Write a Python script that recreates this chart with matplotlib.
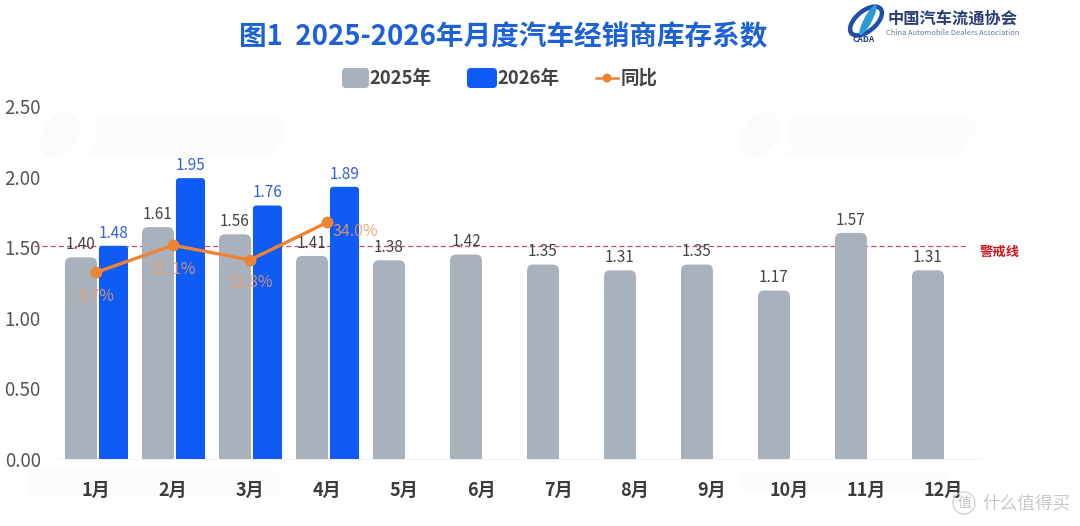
import matplotlib
matplotlib.use("Agg")
import matplotlib.pyplot as plt
from matplotlib.patches import FancyBboxPatch, Circle, Ellipse
from matplotlib.transforms import Affine2D
import numpy as np

plt.rcParams['font.family'] = ['Noto Sans CJK SC', 'DejaVu Sans']

months = ['1月', '2月', '3月', '4月', '5月', '6月', '7月', '8月', '9月', '10月', '11月', '12月']
stock_2025 = [1.40, 1.61, 1.56, 1.41, 1.38, 1.42, 1.35, 1.31, 1.35, 1.17, 1.57, 1.31]
stock_2026 = [1.48, 1.95, 1.76, 1.89]
yoy_pct = [5.7, 21.1, 12.8, 34.0]
yoy_labels = ['5.7%', '21.1%', '12.8%', '34.0%']
y_ticks = [0.0, 0.5, 1.0, 1.5, 2.0, 2.5]
warning_level = 1.51

GRAY = '#a9b1bc'
BLUE = '#0f5bf5'
ORANGE = '#ee8432'
W, H = 1080, 526

fig = plt.figure(figsize=(W / 100, H / 100), dpi=100, facecolor='white')
# figure coordinates counted in pixels from the top left
px = Affine2D().scale(1 / W, -1 / H).translate(0, 1) + fig.transFigure


def soft_box(x0, y0, x1, y1, color, r=4, zorder=3):
    box = FancyBboxPatch((x0 + r, y0 + r), x1 - x0 - 2 * r, y1 - y0 - 2 * r,
                         boxstyle=f"round,pad={r},rounding_size={r}",
                         fc=color, ec='none', transform=px, zorder=zorder)
    fig.add_artist(box)


# faint background marks behind the plot
for x0, y0, x1, y1 in [(95, 117, 285, 145), (90, 145, 275, 157), (790, 117, 975, 145),
                       (785, 145, 965, 157), (30, 470, 280, 497), (740, 472, 950, 492)]:
    soft_box(x0, y0, x1, y1, '#fcfcfc', r=6, zorder=-1)
for cx, cy in [(60, 135), (760, 135)]:
    fig.add_artist(Ellipse((cx, cy), 36, 50, angle=35, fc='#fbfbfb', ec='none', transform=px, zorder=-1))

ax = fig.add_axes([57.5 / W, 1 - 459 / H, 924 / W, 353 / H])
ax.patch.set_alpha(0)
ax.set_xlim(-0.5, 11.5)
ax.set_ylim(0, 2.5)
ax.set_yticks(y_ticks)
ax.set_yticklabels([f'{t:.2f}' for t in y_ticks], fontsize=13.5, color='#555555')
ax.set_xticks(range(len(months)))
ax.set_xticklabels(months, fontsize=13, fontweight='bold', color='#3c3c3c')
ax.tick_params(axis='both', length=0)
ax.tick_params(axis='x', pad=16)
ax.tick_params(axis='y', pad=12)
for side in ['top', 'right', 'left']:
    ax.spines[side].set_visible(False)
ax.spines['bottom'].set_color('#f2f2f2')

# the bars sit on a slightly taller scale than the printed ticks
bars_ax = ax.twinx()
bars_ax.patch.set_alpha(0)
bars_ax.set_ylim(0, 2.451)
bars_ax.axis('off')

yoy_ax = ax.twinx()
yoy_ax.patch.set_alpha(0)
yoy_ax.set_ylim(-100, 100)
yoy_ax.axis('off')

x = np.arange(len(months))
x_2026 = x[:len(stock_2026)]
gray_rects = bars_ax.bar(x - 0.195, stock_2025, width=0.415, color=GRAY)
blue_rects = bars_ax.bar(x_2026 + 0.227, stock_2026, width=0.377, color=BLUE)

# swap the plain rectangles for rounded ones, the axes clip the lower corners
aspect = 77 / 144
for rect, radius in [(r, 0.08) for r in gray_rects] + [(r, 0.04) for r in blue_rects]:
    rect.set_visible(False)
    x0, w, h = rect.get_x(), rect.get_width(), rect.get_height()
    bars_ax.add_patch(FancyBboxPatch((x0 + radius, 0), w - 2 * radius, h - radius * aspect,
                                     boxstyle=f"round,pad={radius},rounding_size={radius}",
                                     mutation_aspect=aspect, fc=rect.get_facecolor(), ec='none'))

for rect, v in zip(gray_rects, stock_2025):
    bars_ax.annotate(f'{v:.2f}', (rect.get_x() + rect.get_width() / 2, v), xytext=(0, 3),
                     textcoords='offset points', ha='center', va='bottom', fontsize=11, color='#444444')
for rect, v in zip(blue_rects, stock_2026):
    bars_ax.annotate(f'{v:.2f}', (rect.get_x() + rect.get_width() / 2, v), xytext=(0, 3),
                     textcoords='offset points', ha='center', va='bottom', fontsize=11, color='#2f62d8')

# warning line
ax.plot([-0.8, 11.33], [warning_level, warning_level], color='#cf4a62', lw=0.9, ls=(0, (4, 2.5)),
        clip_on=False, zorder=5)
bars_ax.set_zorder(ax.get_zorder() + 1)
yoy_ax.set_zorder(ax.get_zorder() + 2)
fig.text(1000, 252, '警戒线', transform=px, ha='center', va='center', fontsize=9.6,
         fontweight='bold', color='#c8161d')

# year on year line on its own hidden scale
yoy_ax.plot(x_2026, yoy_pct, color=ORANGE, lw=2.4, marker='o', ms=7.5, zorder=6)
yoy_offsets = [(0, -24), (0, -24), (0, -23), (28, -9)]
for xi, v, lab, off in zip(x_2026, yoy_pct, yoy_labels, yoy_offsets):
    yoy_ax.annotate(lab, (xi, v), xytext=off, textcoords='offset pixels', ha='center', va='center',
                    fontsize=11.5, color='#ee9a62', alpha=0.85, zorder=7)

# title and legend
fig.text(503, 37, '图1  2025-2026年月度汽车经销商库存系数', transform=px, ha='center', va='center',
         fontsize=19.9, fontweight='bold', color='#1c62d6')

soft_box(342, 68, 369, 88, GRAY, r=4)
fig.text(369, 78, '2025年', transform=px, ha='left', va='center', fontsize=13.3, fontweight='bold', color='#444444')
soft_box(467, 68, 497, 88, BLUE, r=4)
fig.text(497, 78, '2026年', transform=px, ha='left', va='center', fontsize=13.3, fontweight='bold', color='#444444')
fig.add_artist(plt.Line2D([596, 618], [78, 78], color=ORANGE, lw=1.8, transform=px))
fig.add_artist(Circle((607, 78), 4.5, fc=ORANGE, ec='none', transform=px))
fig.text(621, 78, '同比', transform=px, ha='left', va='center', fontsize=13.3, fontweight='bold', color='#444444')

# association mark, top right
fig.add_artist(Ellipse((866, 21), 38, 20, angle=-40, fc='none', ec='#1f4fa8', lw=3.2, transform=px))
fig.add_artist(Ellipse((868, 20), 8, 34, angle=28, fc='#2c9ad6', ec='none', transform=px))
fig.text(864, 39, 'CADA', transform=px, ha='center', va='center', fontsize=6, fontweight='bold',
         style='italic', color='#1f3f90')
fig.text(953, 19, '中国汽车流通协会', transform=px, ha='center', va='center', fontsize=11.7,
         fontweight='bold', color='#2a3f78')
fig.text(953, 33, 'China Automobile Dealers Association', transform=px, ha='center', va='center',
         fontsize=5.4, color='#6a7a9a')

# site mark, bottom right
fig.add_artist(Circle((964, 503), 11, fc='none', ec='#d2d2d2', lw=0.9, transform=px))
fig.text(964, 503, '值', transform=px, ha='center', va='center', fontsize=10, color='#c6c6c6')
fig.text(982, 503, '什么值得买', transform=px, ha='left', va='center', fontsize=12.7, color='#c9c9c9')

fig.savefig('out.png', dpi=100)
